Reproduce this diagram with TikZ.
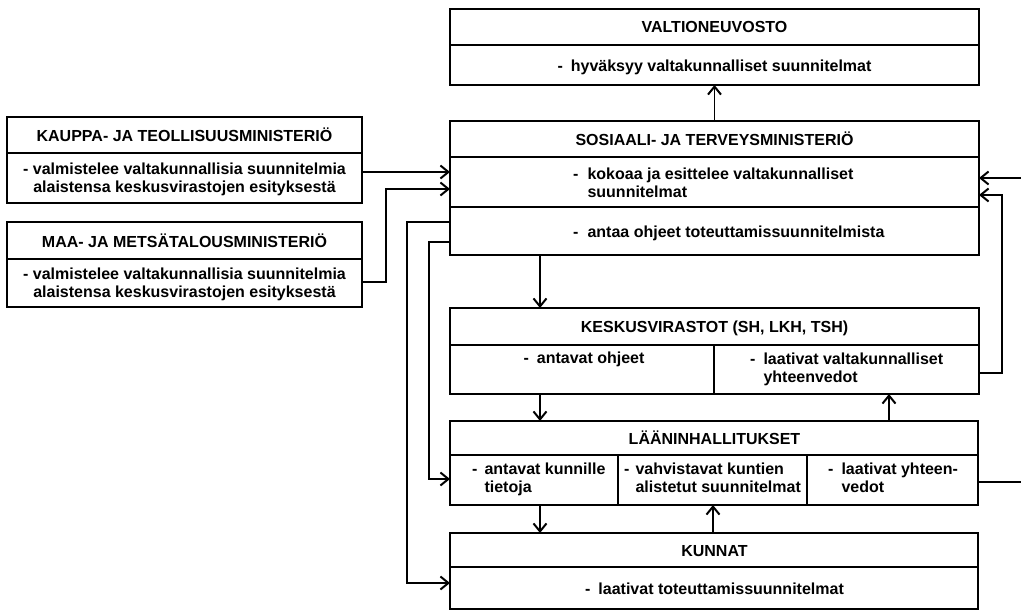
\documentclass[tikz,border=0pt]{standalone}
\usepackage{fontspec}
\setmainfont{Liberation Sans}
\usetikzlibrary{arrows.meta}
\begin{document}
\begin{tikzpicture}[x=1pt,y=-1pt,
  box/.style={draw, line width=2.5pt, inner sep=0pt, outer sep=0pt, anchor=north west},
  div/.style={line width=1.8pt},
  txt/.style={font=\fontsize{16}{18}\selectfont\bfseries, inner sep=0pt, anchor=base},
  ctxt/.style={txt, anchor=base west},
  conn/.style={line width=1.8pt},
  thinconn/.style={line width=1.1pt},
  tip/.style={-{Straight Barb[length=8pt,width=13pt,line width=2pt]}},
  arr/.style={conn, tip},
]
\useasboundingbox (0,0) rectangle (1021,611);

% ---- boxes ----
\node[box, minimum width=529pt, minimum height=76pt]  (valt)   at (450,9)   {};
\node[box, minimum width=529pt, minimum height=134pt] (sos)    at (450,121) {};
\node[box, minimum width=529pt, minimum height=86pt]  (kesk)   at (450,308) {};
\node[box, minimum width=528pt, minimum height=84pt]  (laan)   at (450,421) {};
\node[box, minimum width=528pt, minimum height=76pt]  (kun)    at (450,533) {};
\node[box, minimum width=355pt, minimum height=86pt]  (kauppa) at (7,117)   {};
\node[box, minimum width=355pt, minimum height=85pt]  (maa)    at (7,222)   {};

% ---- dividers ----
\draw[div] (450,45) -- (979,45);
\draw[div] (450,157) -- (979,157);
\draw[div] (450,207) -- (979,207);
\draw[div] (450,345) -- (979,345);
\draw[div] (714,345) -- (714,394);
\draw[div] (450,455) -- (978,455);
\draw[div] (618,455) -- (618,505);
\draw[div] (807,455) -- (807,505);
\draw[div] (450,567) -- (978,567);
\draw[div] (7,153) -- (362,153);
\draw[div] (7,259) -- (362,259);

% ---- texts ----
\node[txt] (valtT) at (714.5,32) {VALTIONEUVOSTO};
\node[txt] (valtB) at (714.5,71) {-\hspace{8pt}hyväksyy valtakunnalliset suunnitelmat};

\node[txt] (sosT) at (714.5,145) {SOSIAALI- JA TERVEYSMINISTERIÖ};
\node[ctxt] (sosB1) at (573,179) {\begin{tabular}[t]{@{}l@{\hspace{9pt}}l@{}}-&kokoaa ja esittelee valtakunnalliset\\&suunnitelmat\end{tabular}};
\node[ctxt] (sosB2) at (573,237) {-\hspace{9pt}antaa ohjeet toteuttamissuunnitelmista};

\node[txt] (keskT) at (714.5,332) {KESKUSVIRASTOT (SH, LKH, TSH)};
\node[txt] (keskB1) at (584,363) {-\hspace{8pt}antavat ohjeet};
\node[ctxt] (keskB2) at (750,364) {\begin{tabular}[t]{@{}l@{\hspace{8pt}}l@{}}-&laativat valtakunnalliset\\&yhteenvedot\end{tabular}};

\node[txt] (laanT) at (714.5,444) {LÄÄNINHALLITUKSET};
\node[ctxt] (laanB1) at (472,474) {\begin{tabular}[t]{@{}l@{\hspace{7pt}}l@{}}-&antavat kunnille\\&tietoja\end{tabular}};
\node[ctxt] (laanB2) at (624,474) {\begin{tabular}[t]{@{}l@{\hspace{6pt}}l@{}}-&vahvistavat kuntien\\&alistetut suunnitelmat\end{tabular}};
\node[ctxt] (laanB3) at (828,474) {\begin{tabular}[t]{@{}l@{\hspace{8pt}}l@{}}-&laativat yhteen-\\&vedot\end{tabular}};

\node[txt] (kunT) at (714.5,556) {KUNNAT};
\node[txt] (kunB) at (714.5,594) {-\hspace{8pt}laativat toteuttamissuunnitelmat};

\node[txt] (kauppaT) at (184.5,141) {KAUPPA- JA TEOLLISUUSMINISTERIÖ};
\node[txt] (kauppaB) at (184.5,174) {\begin{tabular}[t]{@{}c@{}}- valmistelee valtakunnallisia suunnitelmia\\alaistensa keskusvirastojen esityksestä\end{tabular}};
\node[txt] (maaT) at (184.5,247) {MAA- JA METSÄTALOUSMINISTERIÖ};
\node[txt] (maaB) at (184.5,279) {\begin{tabular}[t]{@{}c@{}}- valmistelee valtakunnallisia suunnitelmia\\alaistensa keskusvirastojen esityksestä\end{tabular}};

% ---- connectors ----
\coordinate (rin) at (1021,178);
\coordinate (rout) at (1021,482);

\draw[arr] (sos.north) -- (valt.south);
\draw[arr] ([yshift=-55pt]kauppa.north east) -- ([yshift=-51pt]sos.north west);
\draw[arr] ([yshift=-60pt]maa.north east) -- ++(24pt,0) |- ([yshift=-68pt]sos.north west);
\draw[arr] ([yshift=-101pt]sos.north west) -- ++(-43pt,0) |- ([yshift=-50pt]kun.north west);
\draw[arr] ([yshift=-121pt]sos.north west) -- ++(-21pt,0) |- ([yshift=-58pt]laan.north west);
\draw[thinconn, tip] ([xshift=90pt]sos.south west) -- ([xshift=90pt]kesk.north west);
\draw[arr] ([yshift=-65pt]kesk.north east) -- ++(23pt,0) |- ([yshift=-74pt]sos.north east);
\draw[arr] (rin) -- (rin -| sos.east);
\draw[arr] ([xshift=90pt]kesk.south west) -- ([xshift=90pt]laan.north west);
\draw[arr] ([xshift=439pt]laan.north west) -- ([xshift=439pt]kesk.south west);
\draw[conn] ([yshift=-61pt]laan.north east) -- (rout);
\draw[arr] ([xshift=90pt]laan.south west) -- ([xshift=90pt]kun.north west);
\draw[arr] ([xshift=263pt]kun.north west) -- ([xshift=263pt]laan.south west);
\end{tikzpicture}
\end{document}
